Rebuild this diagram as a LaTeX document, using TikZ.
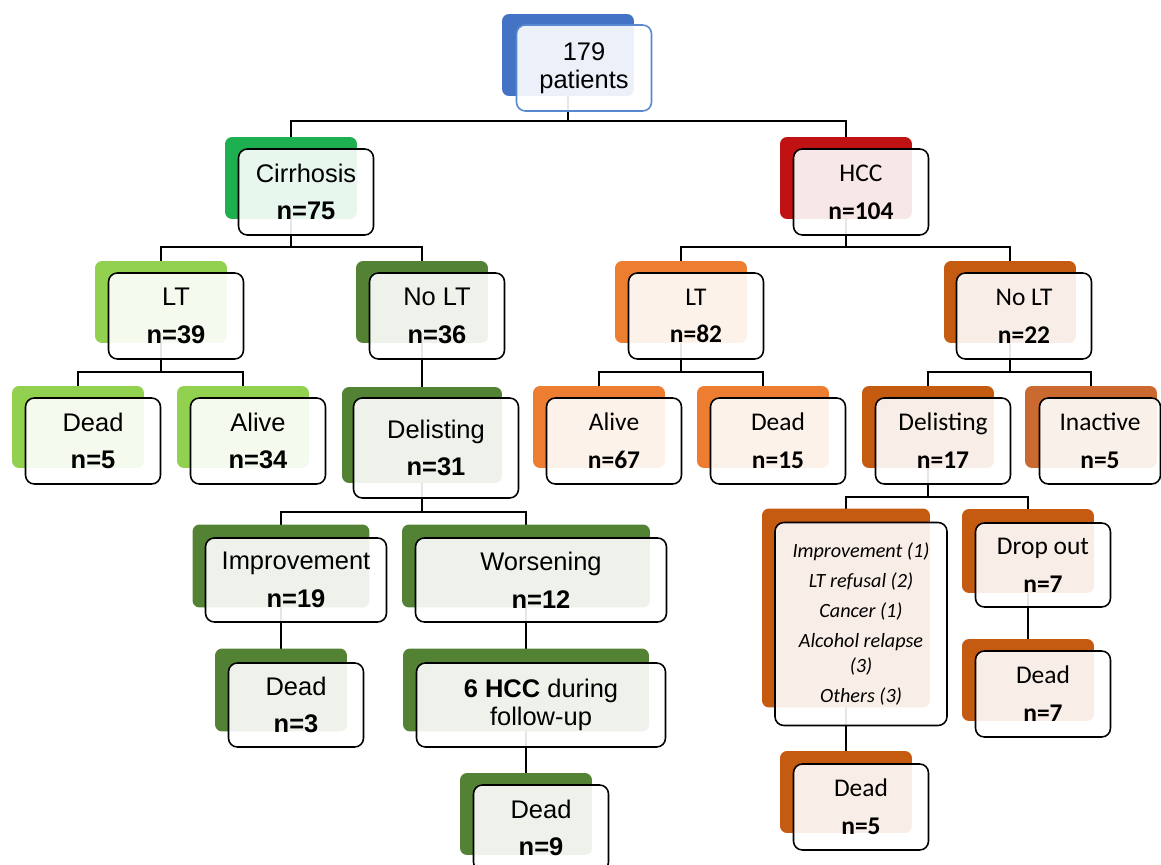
\documentclass[tikz,border=0pt]{standalone}
\usepackage{fontspec}
\setmainfont{Liberation Sans}
\newfontfamily\calibrifont{Carlito}
\usetikzlibrary{backgrounds}

\definecolor{rootblue}{RGB}{68,114,196}
\definecolor{rootedge}{RGB}{88,136,208}
\definecolor{cirrgreen}{RGB}{30,176,80}
\definecolor{ltgreen}{RGB}{146,208,80}
\definecolor{dkgreen}{RGB}{84,130,53}
\definecolor{hccred}{RGB}{192,18,18}
\definecolor{ltorange}{RGB}{237,125,49}
\definecolor{dkorange}{RGB}{197,90,17}
\definecolor{inactorange}{RGB}{202,106,48}

\begin{document}
\begin{tikzpicture}[x=0.02cm, y=-0.02cm,
  back/.style={fill=#1, rounded corners=4pt, inner sep=0pt,
    minimum width=2.64cm, minimum height=1.64cm},
  front/.style={draw=black, line width=0.9pt, fill=white, fill opacity=0.9,
    text opacity=1, rounded corners=5pt, inner sep=0pt, align=center,
    minimum width=2.7cm, minimum height=1.72cm,
    font=\fontsize{14.5}{21.5}\selectfont},
  rfront/.style={front, font=\calibrifont\fontsize{14.5}{21.5}\selectfont},
  link/.style={line width=0.9pt}]

  \useasboundingbox (0,0) rectangle (1161,865);

  % Top
  \node[back=rootblue] (root) at (568,55) {};
  \node[front, draw=rootedge, font=\fontsize{14.5}{16}\selectfont] (root-f)
    at ([shift={(16,13)}]root.center) {179\\patients};

  % Cirrhosis branch
  \node[back=cirrgreen] (cirr) at (291,178) {};
  \node[front] (cirr-f) at ([shift={(15,14)}]cirr.center) {Cirrhosis\\\textbf{n=75}};

  \node[back=ltgreen] (cLT) at (161,302) {};
  \node[front] (cLT-f) at ([shift={(15,14)}]cLT.center) {LT\\\textbf{n=39}};
  \node[back=dkgreen] (cNoLT) at (422,302) {};
  \node[front] (cNoLT-f) at ([shift={(15,14)}]cNoLT.center) {No LT\\\textbf{n=36}};

  \node[back=ltgreen] (cDead) at (78,427) {};
  \node[front] (cDead-f) at ([shift={(15,14)}]cDead.center) {Dead\\\textbf{n=5}};
  \node[back=ltgreen] (cAlive) at (243,427) {};
  \node[front] (cAlive-f) at ([shift={(15,14)}]cAlive.center) {Alive\\\textbf{n=34}};
  \node[back=dkgreen, minimum width=3.2cm, minimum height=1.92cm] (cDel) at (422,435) {};
  \node[front, minimum width=3.3cm, minimum height=2cm] (cDel-f)
    at ([shift={(14,13)}]cDel.center) {Delisting\\\textbf{n=31}};

  \node[back=dkgreen, minimum width=3.54cm, minimum height=1.66cm] (cImp) at (281,566) {};
  \node[front, minimum width=3.62cm, minimum height=1.68cm] (cImp-f)
    at ([shift={(15,14)}]cImp.center) {Improvement\\\textbf{n=19}};
  \node[back=dkgreen, minimum width=4.96cm, minimum height=1.66cm] (cWor) at (526,566) {};
  \node[front, minimum width=5.02cm, minimum height=1.68cm] (cWor-f)
    at ([shift={(15,14)}]cWor.center) {Worsening\\\textbf{n=12}};

  \node[back=dkgreen, minimum height=1.66cm] (cDead3) at (281,690) {};
  \node[front, minimum height=1.68cm] (cDead3-f) at ([shift={(15,15)}]cDead3.center) {Dead\\\textbf{n=3}};
  \node[back=dkgreen, minimum width=4.92cm, minimum height=1.66cm] (cHcc6) at (526,690) {};
  \node[front, minimum width=4.98cm, minimum height=1.68cm, font=\fontsize{14.5}{15.5}\selectfont]
    (cHcc6-f) at ([shift={(15,15)}]cHcc6.center) {\textbf{6 HCC} during\\follow-up};

  \node[back=dkgreen] (cDead9) at (526,814) {};
  \node[front] (cDead9-f) at ([shift={(15,14)}]cDead9.center) {Dead\\\textbf{n=9}};

  % HCC branch
  \node[back=hccred] (hcc) at (846,178) {};
  \node[rfront] (hcc-f) at ([shift={(15,14)}]hcc.center) {HCC\\\textbf{n=104}};

  \node[back=ltorange] (hLT) at (681,302) {};
  \node[rfront] (hLT-f) at ([shift={(15,14)}]hLT.center) {LT\\\textbf{n=82}};
  \node[back=dkorange] (hNoLT) at (1010,302) {};
  \node[rfront] (hNoLT-f) at ([shift={(14,14)}]hNoLT.center) {No LT\\\textbf{n=22}};

  \node[back=ltorange] (hAlive) at (599,427) {};
  \node[rfront] (hAlive-f) at ([shift={(15,14)}]hAlive.center) {Alive\\\textbf{n=67}};
  \node[back=ltorange] (hDead) at (763,427) {};
  \node[rfront] (hDead-f) at ([shift={(15,14)}]hDead.center) {Dead\\\textbf{n=15}};
  \node[back=dkorange] (hDel) at (928,427) {};
  \node[rfront] (hDel-f) at ([shift={(15,14)}]hDel.center) {Delisting\\\textbf{n=17}};
  \node[back=inactorange] (hInact) at (1091,427) {};
  \node[rfront, minimum width=2.42cm] (hInact-f) at ([shift={(9,14)}]hInact.center) {Inactive\\\textbf{n=5}};

  \node[back=dkorange, minimum width=3.36cm, minimum height=3.98cm] (hReas) at (846,608) {};
  \node[rfront, minimum width=3.44cm, minimum height=4.06cm,
    font=\calibrifont\itshape\fontsize{11.5}{14.5}\selectfont] (hReas-f)
    at ([shift={(15,16)}]hReas.center)
    {Improvement (1)\\[2.6pt]LT refusal (2)\\[2.6pt]Cancer (1)\\[2.6pt]Alcohol relapse\\(3)\\[2.6pt]Others (3)};
  \node[back=dkorange, minimum height=1.68cm] (hDrop) at (1028,551) {};
  \node[rfront, minimum height=1.68cm] (hDrop-f) at ([shift={(15,14)}]hDrop.center) {Drop out\\\textbf{n=7}};
  \node[back=dkorange] (hDead7) at (1028,680) {};
  \node[rfront] (hDead7-f) at ([shift={(15,14)}]hDead7.center) {Dead\\\textbf{n=7}};
  \node[back=dkorange] (hDead5) at (846,792) {};
  \node[rfront] (hDead5-f) at ([shift={(15,15)}]hDead5.center) {Dead\\\textbf{n=5}};

  % Connectors (behind the boxes)
  \coordinate (bar0) at (0,121);
  \coordinate (bar1) at (0,247);
  \coordinate (bar2) at (0,372);
  \coordinate (bar3) at (0,512);
  \coordinate (bar4) at (0,497);
  \begin{scope}[on background layer]
    \draw[link] (root.center) -- (root.center |- bar0);
    \draw[link] (cirr.center) |- (root.center |- bar0) -| (hcc.center);

    \draw[link] (cirr.center) -- (cirr.center |- bar1);
    \draw[link] (cLT.center) |- (cirr.center |- bar1) -| (cNoLT.center);
    \draw[link] (cLT.center) -- (cLT.center |- bar2);
    \draw[link] (cDead.center) |- (cLT.center |- bar2) -| (cAlive.center);
    \draw[link] (cNoLT.center) -- (cDel.center);
    \draw[link] (cDel.center) -- (cDel.center |- bar3);
    \draw[link] (cImp.center) |- (cDel.center |- bar3) -| (cWor.center);
    \draw[link] (cImp.center) -- (cDead3.center);
    \draw[link] (cWor.center) -- (cHcc6.center) -- (cDead9.center);

    \draw[link] (hcc.center) -- (hcc.center |- bar1);
    \draw[link] (hLT.center) |- (hcc.center |- bar1) -| (hNoLT.center);
    \draw[link] (hLT.center) -- (hLT.center |- bar2);
    \draw[link] (hAlive.center) |- (hLT.center |- bar2) -| (hDead.center);
    \draw[link] (hNoLT.center) -- (hNoLT.center |- bar2);
    \draw[link] (hDel.center) |- (hNoLT.center |- bar2) -| (hInact.center);
    \draw[link] (hDel.center) -- (hDel.center |- bar4);
    \draw[link] (hReas.center) |- (hDel.center |- bar4) -| (hDrop.center);
    \draw[link] (hReas.center) -- (hDead5.center);
    \draw[link] (hDrop.center) -- (hDead7.center);
  \end{scope}

\end{tikzpicture}
\end{document}
